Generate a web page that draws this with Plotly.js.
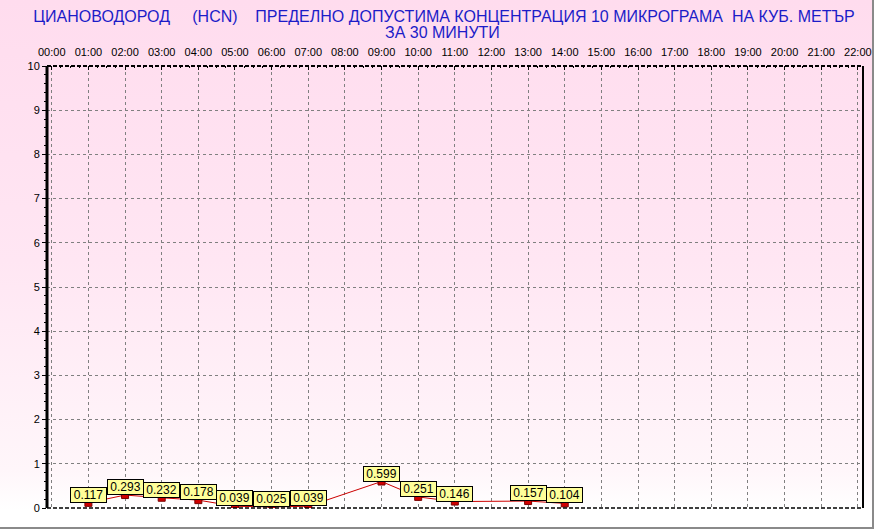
<!DOCTYPE html>
<html>
<head>
<meta charset="utf-8">
<script src="https://cdn.plot.ly/plotly-3.0.1.min.js"></script>
<style>
  html, body { margin:0; padding:0; width:874px; height:529px; overflow:hidden; }
  body { background: linear-gradient(to bottom, #ffdcee 0px, #ffe6f3 260px, #fff6fa 470px, #ffffff 510px, #ffffff 529px); }
  #chart { position:absolute; left:0; top:0; width:874px; height:529px; }
  #frame { position:absolute; left:0; top:0; width:874px; height:529px; box-sizing:border-box;
           border-right:2px solid #8a8a8a; border-bottom:2px solid #8a8a8a; pointer-events:none; }
</style>
</head>
<body>
<div id="chart"></div>
<div id="frame"></div>
<script>
// ---- data ----
var timeLabels = ['01:00','02:00','03:00','04:00','05:00','06:00','07:00','09:00','10:00','11:00','13:00','14:00'];
var hcnValues  = [0.117, 0.293, 0.232, 0.178, 0.039, 0.025, 0.039, 0.599, 0.251, 0.146, 0.157, 0.104];
var tickLabels = ['00:00','01:00','02:00','03:00','04:00','05:00','06:00','07:00','08:00','09:00','10:00',
                  '11:00','12:00','13:00','14:00','15:00','16:00','17:00','18:00','19:00','20:00','21:00','22:00'];
var titleLine1 = 'ЦИАНОВОДОРОД\u00a0\u00a0\u00a0\u00a0\u00a0(HCN)\u00a0\u00a0\u00a0\u00a0ПРЕДЕЛНО ДОПУСТИМА КОНЦЕНТРАЦИЯ 10 МИКРОГРАМА\u00a0\u00a0НА КУБ. МЕТЪР';
var titleLine2 = 'ЗА 30 МИНУТИ';

// ---- derived ----
var xHours = timeLabels.map(function(t){ return parseInt(t.split(':')[0], 10); });
var tickVals = tickLabels.map(function(t){ return parseInt(t.split(':')[0], 10); });

var titleFont = {family: 'Liberation Sans Narrow, Arial Narrow, Arial, sans-serif', size: 16, color: '#1c1cc8'};

var trace = {
  x: xHours, y: hcnValues, type: 'scatter', mode: 'lines+markers',
  line: {color: '#cc0000', width: 1},
  marker: {symbol: 'square', size: 7, color: '#d00000', line: {color: '#7a0000', width: 1}},
  hoverinfo: 'skip'
};

var annotations = xHours.map(function(x, i){
  return {
    x: x, y: hcnValues[i], xref: 'x', yref: 'y',
    text: hcnValues[i].toFixed(3), showarrow: false,
    yanchor: 'bottom', xanchor: 'center', yshift: 0,
    bgcolor: '#ffff99', bordercolor: '#000000', borderwidth: 1, borderpad: 1,
    width: 33, height: 12,
    font: {family: 'Arial, Liberation Sans, sans-serif', size: 12, color: '#000000'}
  };
});
annotations.push({
  text: titleLine2, showarrow: false, xref: 'paper', yref: 'paper',
  x: (442 - 47) / 816, y: (508 - 32) / 442, xanchor: 'center', yanchor: 'middle',
  font: titleFont
});

var shapes = [
  {type:'line', xref:'paper', yref:'paper', x0:0, x1:1, y0:1, y1:1, line:{color:'#000', width:2, dash:'4px,2px'}},
  {type:'line', xref:'paper', yref:'paper', x0:0, x1:1, y0:0, y1:0, line:{color:'#000', width:1.5, dash:'4px,2px'}},
  {type:'line', xref:'paper', yref:'paper', x0:1, x1:1, y0:0, y1:1, line:{color:'#000', width:2}},
  {type:'line', xref:'paper', yref:'paper', x0:0, x1:0, y0:0, y1:1, line:{color:'#000', width:3}}
];

var layout = {
  width: 874, height: 529,
  paper_bgcolor: 'rgba(0,0,0,0)', plot_bgcolor: 'rgba(0,0,0,0)',
  margin: {l: 47, r: 11, t: 66, b: 21},
  showlegend: false,
  title: {
    text: titleLine1, font: titleFont,
    xref: 'container', yref: 'container', x: 444 / 874, xanchor: 'center', y: 1 - 16 / 529, yanchor: 'middle'
  },
  xaxis: {
    side: 'top', range: [-0.13, 22.14], tickmode: 'array', tickvals: tickVals, ticktext: tickLabels,
    showgrid: true, gridcolor: '#808080', griddash: '3px,3px', gridwidth: 1,
    ticks: 'inside', ticklen: 4, tickcolor: '#000', ticklabelstandoff: 7,
    minor: {dtick: 0.25, ticks: 'inside', ticklen: 2, tickcolor: '#000', showgrid: false},
    showline: false, zeroline: false, fixedrange: true,
    tickfont: {family: 'Liberation Sans Narrow, Arial Narrow, Arial, sans-serif', size: 11, color: '#000'}
  },
  yaxis: {
    range: [0, 10], dtick: 1, tick0: 0,
    showgrid: true, gridcolor: '#808080', griddash: '3px,3px', gridwidth: 1,
    ticks: 'outside', ticklen: 4, tickcolor: '#000',
    minor: {dtick: 0.2, ticks: 'outside', ticklen: 2, tickcolor: '#000', showgrid: false},
    showline: false, zeroline: false, fixedrange: true,
    tickfont: {family: 'Arial, Liberation Sans, sans-serif', size: 11, color: '#000'}
  },
  annotations: annotations,
  shapes: shapes
};

Plotly.newPlot('chart', [trace], layout, {staticPlot: true, displayModeBar: false});
</script>
</body>
</html>
